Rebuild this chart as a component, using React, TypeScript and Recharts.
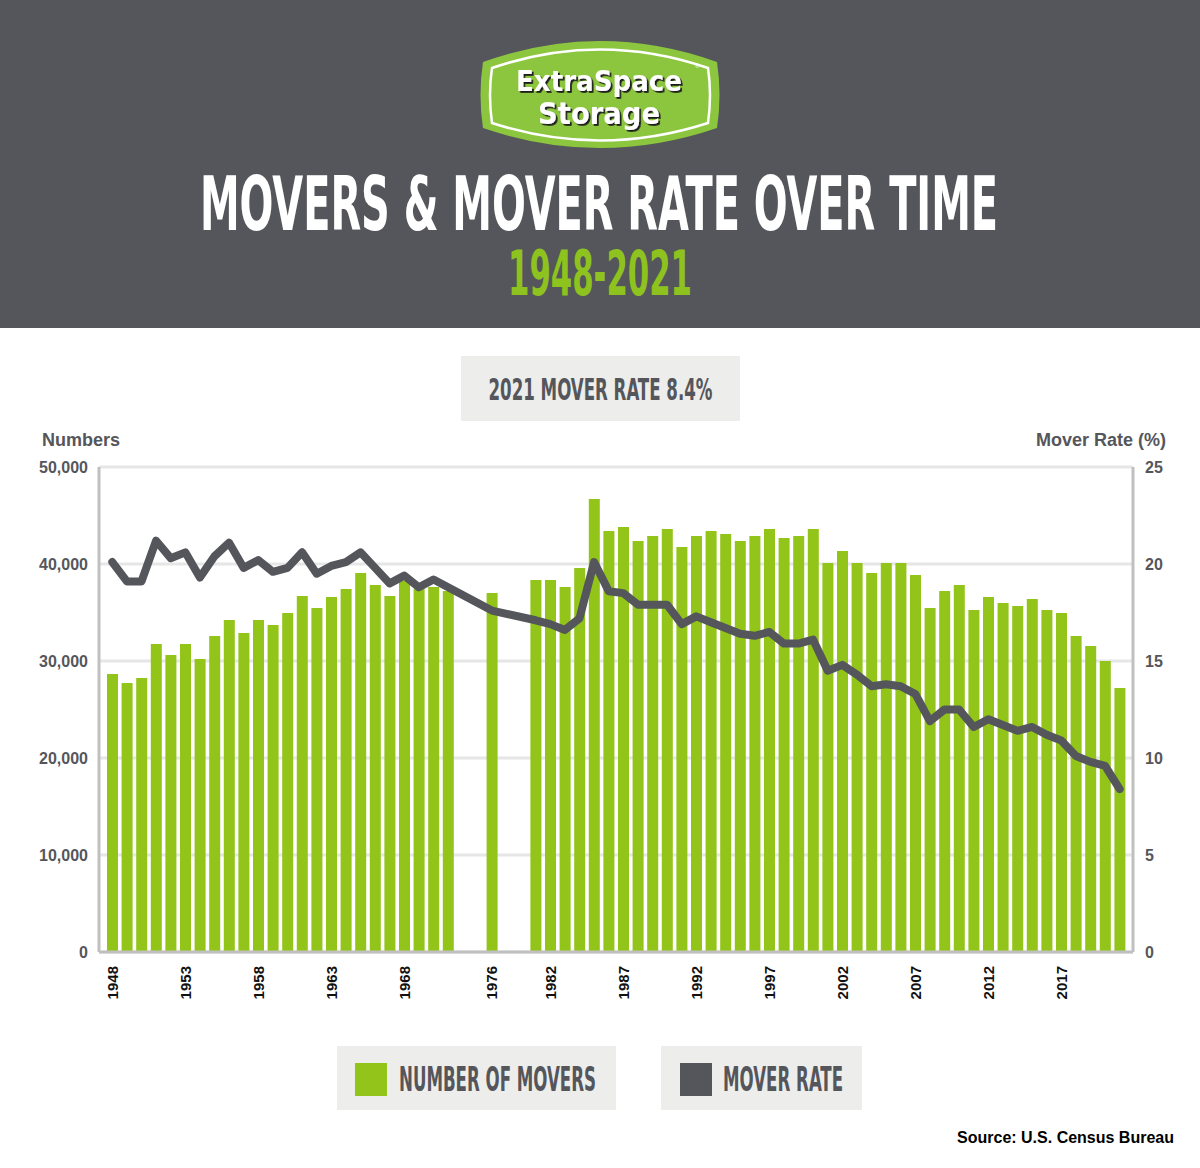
import React, { useLayoutEffect, useRef, useState } from "react";
import { ComposedChart, Bar, Line, XAxis, YAxis, CartesianGrid } from "recharts";

// category slots; gapX = years missing in the survey (drawn as empty slots)
const years = [
  "1948", "1949", "1950", "1951", "1952", "1953", "1954", "1955", "1956", "1957",
  "1958", "1959", "1960", "1961", "1962", "1963", "1964", "1965", "1966", "1967",
  "1968", "1969", "1970", "1971", "gapA", "gapB", "1976", "gapC", "gapD",
  "1981", "1982", "1983", "1984", "1985", "1986", "1987", "1988", "1989", "1990",
  "1991", "1992", "1993", "1994", "1995", "1996", "1997", "1998", "1999", "2000",
  "2001", "2002", "2003", "2004", "2005", "2006", "2007", "2008", "2009", "2010",
  "2011", "2012", "2013", "2014", "2015", "2016", "2017", "2018", "2019", "2020", "2021",
];

// number of movers (thousands)
const movers = [
  28670, 27730, 28250, 31750, 30620, 31750, 30200, 32580, 34230, 32890,
  34230, 33710, 34950, 36700, 35460, 36600, 37420, 39070, 37830, 36700,
  38250, 37420, 37630, 37220, null, null, 37010, null, null,
  38350, 38350, 37630, 39590, 46700, 43400, 43810, 42370, 42890, 43610,
  41750, 42890, 43400, 43090, 42370, 42890, 43610, 42680, 42890, 43610,
  40100, 41340, 40100, 39070, 40100, 40100, 38870, 35460, 37220, 37830,
  35260, 36600, 35980, 35670, 36390, 35260, 34950, 32580, 31550, 30000, 27220,
];

// mover rate (%)
const rates = [
  20.1, 19.1, 19.1, 21.2, 20.3, 20.6, 19.3, 20.4, 21.1, 19.8,
  20.2, 19.6, 19.8, 20.6, 19.5, 19.9, 20.1, 20.6, 19.8, 19.0,
  19.4, 18.8, 19.2, 18.8, null, null, 17.6, null, null,
  17.1, 16.9, 16.6, 17.2, 20.1, 18.6, 18.5, 17.9, 17.9, 17.9,
  16.9, 17.3, 17.0, 16.7, 16.4, 16.3, 16.5, 15.9, 15.9, 16.1,
  14.5, 14.8, 14.3, 13.7, 13.8, 13.7, 13.3, 11.9, 12.5, 12.5,
  11.6, 12.0, 11.7, 11.4, 11.6, 11.2, 10.9, 10.1, 9.8, 9.6, 8.4,
];

const labelYears = ["1948", "1953", "1958", "1963", "1968", "1976", "1982", "1987", "1992", "1997", "2002", "2007", "2012", "2017"];
const leftTicks = [0, 10000, 20000, 30000, 40000, 50000];
const rightTicks = [0, 5, 10, 15, 20, 25];

const data = years.map((y, i) => ({ year: y, movers: movers[i], rate: rates[i] }));

const GREEN = "#92c41a";
const DARK = "#55565b";
const BOX = "#ededeb";
const ARIAL = "'Liberation Sans', Arial, sans-serif";
const COND = "'DejaVu Sans Condensed', 'Liberation Sans Narrow', 'DejaVu Sans', sans-serif";

// condensed heading text: measured, then squeezed horizontally to the wanted width
function CondText(props: any) {
  const { x, y, width, anchor = "start", size, fill, children } = props;
  const ref = useRef<SVGTextElement>(null);
  const [sx, setSx] = useState(0.6);
  useLayoutEffect(() => {
    const measure = () => {
      const w = ref.current ? ref.current.getComputedTextLength() : 0;
      if (w > 0) setSx(width / w);
    };
    measure();
    if ((document as any).fonts) (document as any).fonts.ready.then(measure);
  }, [width]);
  return (
    <text
      ref={ref}
      x={0}
      y={0}
      transform={`translate(${x} ${y}) scale(${sx} 1)`}
      textAnchor={anchor}
      fontFamily={COND}
      fontWeight={700}
      fontSize={size}
      fill={fill}
    >
      {children}
    </text>
  );
}

function YearTick(props: any) {
  const { x, y, payload } = props;
  if (!labelYears.includes(payload.value)) return <g />;
  const ty = y + 14;
  return (
    <text
      x={x}
      y={ty}
      transform={`rotate(-90 ${x} ${ty})`}
      textAnchor="end"
      dy="0.36em"
      fill="#111"
      fontSize={15}
      fontWeight={700}
      fontFamily={ARIAL}
    >
      {payload.value}
    </text>
  );
}

function Logo() {
  return (
    <g>
      <defs>
        <filter id="logoShadow" x="-10%" y="-10%" width="120%" height="130%">
          <feDropShadow dx={1.8} dy={1.8} stdDeviation={0} floodColor="#1e1e1e" floodOpacity={1} />
        </filter>
      </defs>
      <path d="M483 62 Q600 20 717 62 Q722 95 717 128 Q600 168 483 128 Q478 95 483 62 Z" fill="#8cc63f" />
      <path
        d="M492 68 Q600 31 708 68 Q712 95 708 123 Q600 158 492 123 Q488 95 492 68 Z"
        fill="none"
        stroke="#fff"
        strokeWidth={2.5}
      />
      <g filter="url(#logoShadow)">
        <CondText x={599} y={91} width={166} anchor="middle" size={29} fill="#fff">ExtraSpace</CondText>
        <CondText x={599} y={124} width={122} anchor="middle" size={30} fill="#fff">Storage</CondText>
      </g>
      <text x={695} y={68} fontSize={6} fill="#fff" fontFamily={ARIAL}>®</text>
    </g>
  );
}

export default function App() {
  return (
    <div style={{ position: "absolute", left: 0, top: 0, width: 1200, height: 1168, background: "#fff", overflow: "hidden" }}>
      <svg width={1200} height={1168} style={{ position: "absolute", left: 0, top: 0 }}>
        <rect x={0} y={0} width={1200} height={328} fill={DARK} />
        <Logo />
        <CondText x={599} y={230} width={798} anchor="middle" size={75} fill="#fff">
          MOVERS &amp; MOVER RATE OVER TIME
        </CondText>
        <CondText x={600} y={295} width={184} anchor="middle" size={62} fill="#8dc21f">
          1948-2021
        </CondText>

        <rect x={461} y={356} width={279} height={65} fill={BOX} />
        <CondText x={600.5} y={400} width={224} anchor="middle" size={30} fill={DARK}>
          2021 MOVER RATE 8.4%
        </CondText>

        <text x={42} y={446} fontFamily={ARIAL} fontWeight={700} fontSize={18} fill={DARK}>Numbers</text>
        <text x={1166} y={446} textAnchor="end" fontFamily={ARIAL} fontWeight={700} fontSize={18} fill={DARK}>Mover Rate (%)</text>

        <rect x={337} y={1046} width={279} height={64} fill={BOX} />
        <rect x={355} y={1063} width={32} height={33} fill={GREEN} />
        <CondText x={399} y={1091} width={197} size={33} fill={DARK}>NUMBER OF MOVERS</CondText>
        <rect x={661} y={1046} width={201} height={64} fill={BOX} />
        <rect x={680} y={1063} width={32} height={33} fill={DARK} />
        <CondText x={723} y={1091} width={120} size={33} fill={DARK}>MOVER RATE</CondText>

        <text x={1174} y={1143} textAnchor="end" fontFamily={ARIAL} fontWeight={700} fontSize={16} fill="#000">
          Source: U.S. Census Bureau
        </text>
      </svg>

      <div style={{ position: "absolute", left: 0, top: 440 }}>
        <ComposedChart width={1200} height={600} data={data} margin={{ top: 27, right: 0, bottom: 0, left: 0 }}>
          <CartesianGrid yAxisId="left" vertical={false} stroke="#e6e6e6" strokeWidth={3} />
          <XAxis
            dataKey="year"
            interval={0}
            height={88}
            padding={{ left: 6, right: 6 }}
            tickLine={false}
            tickSize={0}
            tickMargin={0}
            axisLine={{ stroke: "#c0c0c0", strokeWidth: 3 }}
            tick={<YearTick />}
          />
          <YAxis
            yAxisId="left"
            width={99}
            domain={[0, 50000]}
            ticks={leftTicks}
            tickLine={false}
            tickSize={0}
            tickMargin={11}
            axisLine={{ stroke: "#c0c0c0", strokeWidth: 3 }}
            tickFormatter={(v: number) => v.toLocaleString("en-US")}
            tick={{ fill: DARK, fontSize: 16, fontWeight: 700, fontFamily: ARIAL }}
          />
          <YAxis
            yAxisId="right"
            orientation="right"
            width={67}
            domain={[0, 25]}
            ticks={rightTicks}
            tickLine={false}
            tickSize={0}
            tickMargin={12}
            axisLine={{ stroke: "#c0c0c0", strokeWidth: 3 }}
            tick={{ fill: DARK, fontSize: 16, fontWeight: 700, fontFamily: ARIAL }}
          />
          <Bar yAxisId="left" dataKey="movers" fill={GREEN} barSize={11} isAnimationActive={false} />
          <Line
            yAxisId="right"
            dataKey="rate"
            type="linear"
            stroke={DARK}
            strokeWidth={8}
            strokeLinejoin="round"
            strokeLinecap="round"
            dot={false}
            activeDot={false}
            connectNulls
            isAnimationActive={false}
          />
        </ComposedChart>
      </div>
    </div>
  );
}
